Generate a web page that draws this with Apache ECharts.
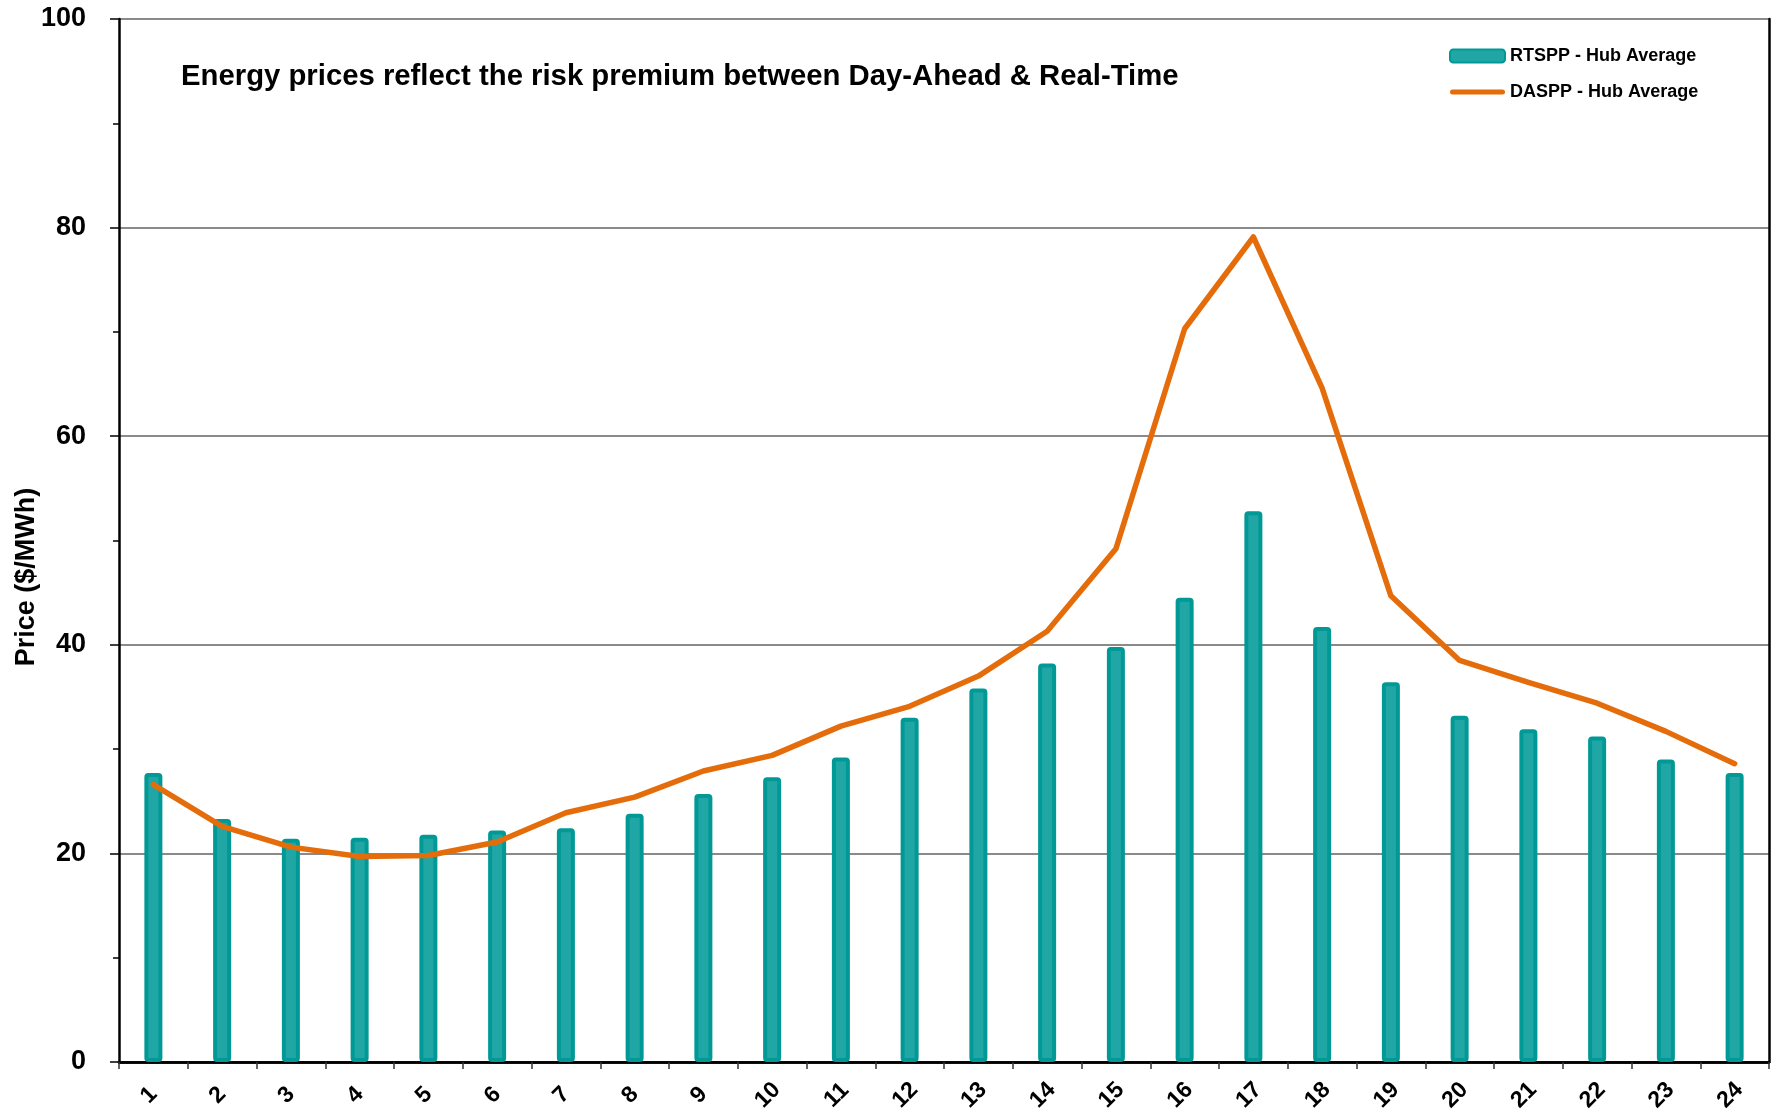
<!DOCTYPE html>
<html>
<head>
<meta charset="utf-8">
<script src="https://cdn.jsdelivr.net/npm/echarts@6/dist/echarts.min.js"></script>
<style>
html,body{margin:0;padding:0;background:#fff;}
#chart{width:1777px;height:1117px;}
</style>
</head>
<body>
<div id="chart"></div>
<script>
const hours = ['1','2','3','4','5','6','7','8','9','10','11','12','13','14','15','16','17','18','19','20','21','22','23','24'];
const rtspp = [27.7, 23.3, 21.4, 21.5, 21.8, 22.2, 22.4, 23.8, 25.7, 27.3, 29.2, 33.0, 35.8, 38.2, 39.8, 44.5, 52.8, 41.7, 36.4, 33.2, 31.9, 31.2, 29.0, 27.7];
const daspp = [26.6, 22.6, 20.6, 19.7, 19.8, 21.1, 23.9, 25.4, 27.9, 29.4, 32.2, 34.1, 37.0, 41.3, 49.2, 70.3, 79.1, 64.6, 44.7, 38.5, 36.4, 34.4, 31.7, 28.6];
const yTicks = [0, 20, 40, 60, 80, 100];
const titleText = 'Energy prices reflect the risk premium between Day-Ahead & Real-Time';
const yName = 'Price ($/MWh)';

const FONT = '"Liberation Sans", Arial, Helvetica, sans-serif';
const chart = echarts.init(document.getElementById('chart'), null, {renderer: 'canvas'});

const option = {
  backgroundColor: '#ffffff',
  animation: false,
  textStyle: {fontFamily: FONT},
  grid: {left: 119, right: 8, top: 19, bottom: 55, show: false},
  legend: {
    orient: 'vertical',
    left: 1449,
    top: 47,
    itemWidth: 55,
    itemHeight: 13,
    itemGap: 18,
    padding: 0,
    textStyle: {fontFamily: FONT, fontWeight: 'bold', fontSize: 18, color: '#000'},
    data: [
      {name: 'RTSPP - Hub Average', icon: 'roundRect'},
      {name: 'DASPP - Hub Average', icon: 'path://M2.5,0H52.5A2.5,2.5,0,0,1,52.5,5H2.5A2.5,2.5,0,0,1,2.5,0Z'}
    ]
  },
  graphic: [
    {
      type: 'text', left: 181, top: 62,
      style: {text: titleText, font: 'bold 29.3px ' + FONT, fill: '#000'}
    },
    {
      type: 'text', x: 27, y: 577, rotation: Math.PI / 2,
      style: {text: yName, font: 'bold 27px ' + FONT, fill: '#000', align: 'center', verticalAlign: 'middle'}
    }
  ],
  xAxis: [
    {
      type: 'category',
      data: hours,
      boundaryGap: true,
      axisLine: {show: true, lineStyle: {color: '#000', width: 2.5}},
      axisTick: {show: true, length: 7, alignWithLabel: false, lineStyle: {color: '#333', width: 1.5}},
      axisLabel: {
        rotate: 45, interval: 0, align: 'center', verticalAlign: 'middle',
        margin: 29, padding: [0, 12, 0, 0],
        fontFamily: FONT, fontWeight: 'bold', fontSize: 23, color: '#000'
      },
      splitLine: {show: false}
    },
    {
      type: 'category', data: hours, position: 'top',
      axisLine: {show: true, lineStyle: {color: '#000', width: 2.5}},
      axisTick: {show: false}, axisLabel: {show: false}, splitLine: {show: false}
    }
  ],
  yAxis: [
    {
      type: 'value',
      min: yTicks[0], max: yTicks[yTicks.length - 1], interval: 20,
      axisLine: {show: true, lineStyle: {color: '#000', width: 2.5}},
      axisTick: {show: true, length: 9, lineStyle: {color: '#000', width: 1.5}},
      minorTick: {show: true, splitNumber: 2, length: 6, lineStyle: {color: '#000', width: 1.5}},
      axisLabel: {margin: 33, fontFamily: FONT, fontWeight: 'bold', fontSize: 27, color: '#000'},
      splitLine: {show: true, lineStyle: {color: '#8a8a8a', width: 2}},
      minorSplitLine: {show: false}
    },
    {
      type: 'value', position: 'right',
      min: yTicks[0], max: yTicks[yTicks.length - 1], interval: 20,
      axisLine: {show: true, lineStyle: {color: '#000', width: 2.5}},
      axisTick: {show: false}, axisLabel: {show: false}, splitLine: {show: false}
    }
  ],
  series: [
    {
      name: 'RTSPP - Hub Average',
      type: 'bar',
      data: rtspp,
      barWidth: 18,
      itemStyle: {color: '#20A7A5', borderColor: '#009995', borderWidth: 4, borderRadius: 2},
      z: 2
    },
    {
      name: 'DASPP - Hub Average',
      type: 'line',
      data: daspp,
      symbol: 'none',
      lineStyle: {color: '#E46C0A', width: 5.5, cap: 'round', join: 'round'},
      itemStyle: {color: '#E46C0A'},
      z: 3
    }
  ]
};
chart.setOption(option);
</script>
</body>
</html>
